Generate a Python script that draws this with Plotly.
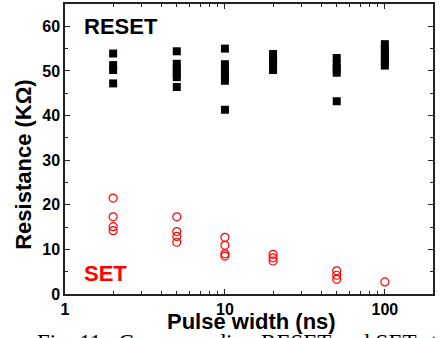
import plotly.graph_objects as go

# RESET data (pulse width ns, resistance kOhm)
reset_x = [2, 2, 2, 2,
           5, 5, 5, 5, 5, 5,
           10, 10, 10, 10, 10, 10,
           20, 20, 20, 20,
           50, 50, 50, 50, 50,
           100, 100, 100, 100, 100, 100]
reset_y = [53.9, 51.3, 50.2, 47.2,
           54.4, 51.6, 50.5, 49.5, 48.6, 46.4,
           55.0, 51.5, 50.0, 48.8, 47.8, 41.3,
           53.8, 52.5, 51.4, 50.2,
           52.9, 51.5, 50.5, 49.6, 43.2,
           56.0, 55.0, 54.0, 53.0, 52.0, 51.2]

# SET data
set_x = [2, 2, 2, 2,
         5, 5, 5, 5,
         10, 10, 10, 10,
         20, 20, 20,
         50, 50, 50,
         100]
set_y = [21.5, 17.3, 15.1, 14.2,
         17.3, 14.0, 12.9, 11.6,
         12.7, 10.9, 9.0, 8.5,
         8.9, 8.1, 7.4,
         5.2, 4.2, 3.3,
         2.7]

x_tickvals = [1, 10, 100]
x_ticktext = ["<b>1</b>", "<b>10</b>", "<b>100</b>"]
y_tickvals = [0, 10, 20, 30, 40, 50, 60]
y_ticktext = ["<b>%d</b>" % v for v in y_tickvals]

FONT = "Arial, Liberation Sans, sans-serif"

fig = go.Figure()
fig.add_trace(go.Scatter(x=reset_x, y=reset_y, mode="markers",
                         marker=dict(symbol="square", size=8, color="black",
                                     line=dict(width=0)),
                         showlegend=False))
fig.add_trace(go.Scatter(x=set_x, y=set_y, mode="markers",
                         marker=dict(symbol="circle-open", size=8, color="red",
                                     line=dict(width=1.2, color="red")),
                         showlegend=False))

axis_common = dict(showline=True, linecolor="#222", linewidth=1.5, mirror="allticks",
                   ticks="inside", ticklen=5, tickwidth=1.2, tickcolor="#222",
                   showgrid=False, zeroline=False,
                   tickfont=dict(family=FONT, size=16, color="black"))

fig.update_xaxes(type="log", range=[0, 2.301],
                 tickvals=x_tickvals, ticktext=x_ticktext,
                 minor=dict(ticks="inside", ticklen=3, tickwidth=1, tickcolor="#222",
                            tickvals=[2, 3, 4, 5, 6, 7, 8, 9, 20, 30, 40, 50, 60, 70, 80, 90, 200]),
                 **axis_common)
fig.update_yaxes(range=[0, 65], tickvals=y_tickvals, ticktext=y_ticktext,
                 minor=dict(ticks="inside", ticklen=3, tickwidth=1, tickcolor="#222", dtick=5),
                 **axis_common)

# axis titles placed explicitly
fig.add_annotation(x=0.506, y=-0.096, xref="paper", yref="paper",
                   text="<b>Pulse width (ns)</b>", showarrow=False,
                   xanchor="center", yanchor="middle",
                   font=dict(family=FONT, size=22, color="black"))
fig.add_annotation(x=-0.113, y=0.447, xref="paper", yref="paper",
                   text="<b>Resistance (KΩ)</b>", showarrow=False, textangle=-90,
                   xanchor="center", yanchor="middle",
                   font=dict(family=FONT, size=22, color="black"))

fig.add_annotation(x=0.046, y=60, xref="x domain", yref="y", text="<b>RESET</b>",
                   showarrow=False, xanchor="left", yanchor="middle",
                   font=dict(family=FONT, size=22, color="black"))
fig.add_annotation(x=0.046, y=4.7, xref="x domain", yref="y", text="<b>SET</b>",
                   showarrow=False, xanchor="left", yanchor="middle",
                   font=dict(family=FONT, size=22, color="red"))
fig.add_annotation(x=-0.082, y=-0.118, xref="paper", yref="paper",
                   text="Fig. 11.  Corresponding RESET and SET states",
                   showarrow=False, xanchor="left", yanchor="top",
                   font=dict(family="Liberation Serif, Times New Roman, serif", size=23, color="black"))

fig.update_layout(width=441, height=338,
                  margin=dict(l=65, r=8, t=2, b=44),
                  paper_bgcolor="white", plot_bgcolor="white")

fig.write_html("out.html")
